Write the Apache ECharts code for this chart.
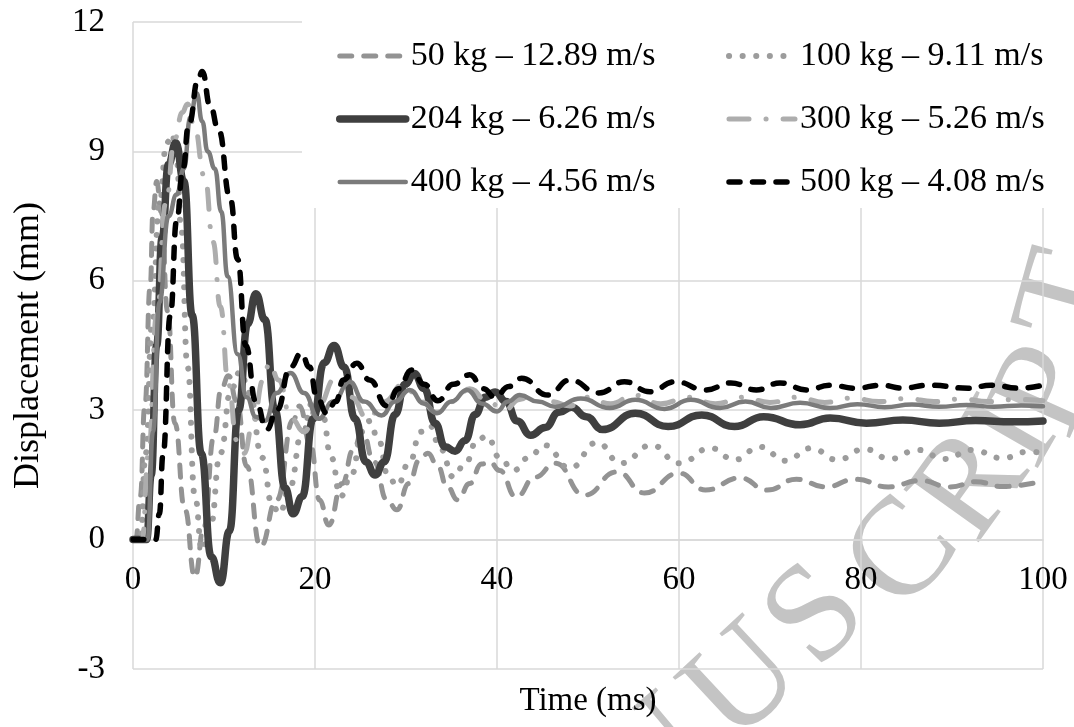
<!DOCTYPE html>
<html>
<head>
<meta charset="utf-8">
<script src="https://cdn.jsdelivr.net/npm/echarts@6/dist/echarts.min.js"></script>
<style>
  html, body { margin: 0; padding: 0; background: #fff; }
  #chart { width: 1074px; height: 727px; }
</style>
</head>
<body>
<div id="chart"></div>
<script>
// Displacement histories [time ms, displacement mm] for each impact case
const seriesNames = [
  '50 kg – 12.89 m/s', '100 kg – 9.11 m/s', '204 kg – 6.26 m/s',
  '300 kg – 5.26 m/s', '400 kg – 4.56 m/s', '500 kg – 4.08 m/s'
];

const d50 = [[0,0],[0.3,0],[0.8,1.0],[1.3,3.1],[1.9,5.9],[2.2,7.6],[2.6,8.3],[3.1,7.6],[3.8,5.3],[4.6,2.7],[5.7,0.7],[6.8,-0.87],[7.8,0.3],[8.9,2.4],[9.7,3.5],[10.5,3.8],[11.4,3.2],[12.5,1.7],[14.0,-0.16],[15.8,0.92],[17.6,2.77],[18.3,3.1],[19.5,2.2],[20.5,0.92],[21.5,0.34],[23.0,1.3],[24.2,2.08],[25.2,2.5],[26.5,1.8],[27.9,0.92],[29.0,0.69],[30.3,1.3],[31.5,1.85],[32.4,2.0],[33.5,1.7],[34.5,1.23],[35.7,0.92],[37.0,1.3],[38.3,1.75],[39.2,1.8],[40.3,1.6],[42.1,0.99],[44.2,1.45],[46.4,1.77],[49.6,1.03],[53.2,1.57],[56.2,1.08],[60.0,1.54],[62.9,1.15],[66.7,1.43],[69.7,1.15],[72.9,1.4],[76.1,1.22],[79.4,1.4],[83.0,1.22],[86.5,1.37],[89.8,1.22],[92.6,1.34],[95.6,1.23],[100,1.36]];

const d100 = [[0,0],[0.8,0],[1.4,2.0],[2.1,5.0],[2.9,7.8],[3.7,9.2],[4.3,9.4],[4.8,8.8],[5.3,7.2],[6.0,4.0],[6.8,1.0],[7.6,-0.25],[8.5,0.3],[9.6,2.0],[10.8,3.5],[11.8,3.9],[12.8,3.4],[14.2,1.9],[15.3,0.8],[16.1,0.6],[17.2,1.2],[18.6,2.5],[19.8,3.2],[20.8,2.9],[21.8,1.9],[22.8,1.0],[24.0,1.5],[25.2,2.5],[26.0,2.75],[27.0,2.3],[28.0,1.5],[29.0,1.25],[30.4,1.8],[31.6,2.5],[32.6,2.65],[33.8,2.1],[35.2,1.45],[36.6,1.8],[37.8,2.3],[38.9,2.4],[40.3,1.9],[41.8,1.6],[43.5,1.9],[45.2,2.19],[48.0,1.66],[51.0,2.25],[53.6,1.77],[57.0,2.19],[60.0,1.77],[63.5,2.12],[66.1,1.85],[68.9,2.15],[71.7,1.83],[74.5,2.12],[77.4,1.85],[80.4,2.1],[83.2,1.87],[86.2,2.08],[89.2,1.87],[92.2,2.08],[95.5,1.89],[98.5,2.04],[100,2.0]];

const d204 = [[0,0],[1.5,0],[2.0,1.5],[2.6,4.5],[3.2,7.0],[3.9,8.7],[4.7,9.2],[5.6,8.3],[6.5,5.2],[7.5,2.0],[8.6,-0.4],[9.6,-1.0],[10.6,0.2],[11.6,3.0],[12.6,5.0],[13.5,5.7],[14.5,5.1],[15.6,3.0],[16.7,1.2],[17.6,0.6],[18.6,1.0],[19.8,2.8],[21.0,4.1],[22.1,4.5],[23.2,4.0],[24.4,2.8],[25.6,1.8],[26.6,1.5],[27.6,1.8],[28.8,2.9],[29.9,3.6],[30.9,3.85],[32.0,3.5],[33.2,2.7],[34.3,2.15],[35.4,2.05],[36.5,2.3],[37.6,2.9],[38.7,3.3],[39.8,3.42],[41.0,3.2],[42.2,2.75],[43.7,2.42],[45.3,2.6],[46.8,2.95],[48.2,3.07],[49.8,2.85],[51.6,2.55],[55.2,2.93],[58.8,2.62],[62.5,2.89],[66.1,2.62],[69.3,2.85],[73.3,2.66],[76.6,2.82],[80.6,2.7],[84.6,2.77],[88.6,2.7],[92.6,2.76],[96.7,2.73],[100,2.75]];

const d300 = [[0,0],[1.0,0],[1.7,2.0],[2.6,5.2],[3.6,7.8],[4.6,9.3],[5.4,9.9],[6.0,10.1],[6.7,9.6],[7.9,8.4],[8.8,6.9],[9.6,5.4],[10.5,3.6],[11.4,2.3],[12.2,2.0],[13.2,2.7],[14.3,3.7],[15.0,4.1],[16.0,3.7],[17.4,2.8],[18.8,2.5],[20.3,3.1],[22.3,3.75],[24.0,3.3],[25.8,2.8],[27.6,3.2],[29.7,3.6],[31.6,3.2],[33.4,2.95],[35.2,3.2],[37.0,3.5],[39.0,3.2],[40.8,3.0],[42.5,3.25],[44.2,3.45],[46.0,3.2],[48.0,3.1],[50.0,3.3],[52.5,3.15],[55.0,3.35],[58.0,3.15],[61.0,3.3],[64.0,3.15],[67.0,3.3],[70.0,3.18],[73.0,3.3],[76.0,3.18],[79.0,3.28],[82.0,3.2],[85.0,3.27],[88.0,3.2],[91.0,3.26],[94.0,3.2],[97.0,3.25],[100,3.22]];

const d400 = [[0,0],[1.6,0],[2.2,2.5],[2.9,5.5],[3.9,7.5],[4.8,8.0],[5.6,8.6],[6.3,9.8],[7.0,10.35],[7.6,9.7],[8.2,9.0],[9.0,8.6],[9.7,7.6],[10.4,6.1],[11.5,4.3],[12.5,3.3],[13.5,2.85],[14.5,2.75],[15.8,3.4],[17.3,3.86],[18.8,3.4],[20.4,2.8],[22.0,3.2],[23.8,3.66],[25.4,3.2],[27.3,2.88],[28.8,3.2],[30.4,3.47],[32.0,3.15],[33.4,2.93],[35.0,3.2],[36.7,3.47],[38.4,3.15],[40.0,2.97],[41.2,3.2],[42.5,3.35],[44.5,3.2],[46.4,3.08],[49.2,3.27],[52.4,3.05],[55.2,3.24],[58.4,3.03],[61.3,3.24],[64.5,3.05],[67.3,3.2],[70.1,3.05],[73.3,3.17],[76.6,3.05],[79.6,3.14],[82.6,3.07],[85.6,3.13],[88.6,3.08],[91.6,3.12],[94.6,3.08],[97.6,3.11],[100,3.09]];

const d500 = [[0,0],[2.5,0],[2.9,0.6],[3.3,1.97],[4.1,5.2],[4.8,7.4],[5.5,8.6],[6.1,9.6],[7.2,10.7],[7.6,10.85],[8.5,10.04],[9.4,9.5],[10.7,7.9],[11.5,6.5],[12.4,4.5],[13.5,3.2],[14.7,2.55],[15.8,3.0],[17.3,4.0],[18.5,4.32],[19.4,4.0],[20.2,3.3],[21.3,2.93],[22.3,3.2],[23.1,3.7],[24.6,4.09],[26.0,3.7],[27.9,3.1],[29.2,3.5],[30.6,3.93],[32.0,3.6],[33.5,3.22],[35.2,3.6],[37.0,3.82],[38.5,3.5],[39.8,3.3],[41.3,3.55],[42.7,3.74],[45.6,3.35],[48.0,3.7],[51.2,3.4],[54.0,3.66],[56.8,3.43],[59.6,3.66],[62.9,3.47],[65.7,3.63],[68.5,3.47],[71.1,3.63],[74.1,3.47],[76.6,3.58],[79.4,3.51],[82.2,3.58],[84.6,3.51],[87.4,3.58],[91.8,3.51],[94.3,3.58],[97.5,3.51],[100,3.58]];

const xTicks = { min: 0, max: 100, step: 20 };
const yTicks = { min: -3, max: 12, step: 3 };

const serif = "'Liberation Serif', 'Times New Roman', serif";
const gridGray = '#d9d9d9';

// plot box (px)
const plot = { left: 133, right: 31, top: 22, bottom: 58, width: 910, height: 647 };
// distance from the plot bottom up to the zero line, so the time axis sits on y = 0
const zeroLift = plot.height * (0 - yTicks.min) / (yTicks.max - yTicks.min);

// series appearance: colour, width, dash pattern (round caps lengthen each dash by the width)
const looks = [
  { color: '#939393', width: 5,   type: [12, 12] },
  { color: '#9c9c9c', width: 6,   type: [0.1, 13.5] },
  { color: '#3f3f3f', width: 7.5, type: 'solid' },
  { color: '#adadad', width: 5,   type: [20, 17, 0.1, 17] },
  { color: '#7b7b7b', width: 4.5, type: 'solid' },
  { color: '#000000', width: 5.5, type: [11, 12.5] }
];
const allData = [d50, d100, d204, d300, d400, d500];

function legendItem(i) {
  const lk = looks[i];
  return {
    name: seriesNames[i],
    itemStyle: { opacity: 0 },
    lineStyle: { color: lk.color, width: lk.width, type: lk.type, cap: 'round' }
  };
}

// curved watermark lettering along the lower right
const wmLetters = [
  { ch: 'N', x: 655, y: 760, r: 0.70 },
  { ch: 'U', x: 745, y: 685, r: 0.75 },
  { ch: 'S', x: 818, y: 618, r: 0.80 },
  { ch: 'C', x: 905, y: 556, r: 0.85 },
  { ch: 'R', x: 973, y: 487, r: 0.95 },
  { ch: 'I', x: 1015, y: 434, r: 1.05 },
  { ch: 'P', x: 1050, y: 392, r: 1.15 },
  { ch: 'T', x: 1074, y: 298, r: 1.30 }
];

const chart = echarts.init(document.getElementById('chart'), null, { renderer: 'canvas' });

chart.setOption({
  backgroundColor: '#fff',
  animation: false,
  grid: { left: plot.left, right: plot.right, top: plot.top, bottom: plot.bottom,
          containLabel: false, outerBoundsMode: 'none' },
  xAxis: {
    type: 'value', min: xTicks.min, max: xTicks.max, interval: xTicks.step,
    position: 'bottom', offset: -zeroLift,
    name: 'Time (ms)', nameLocation: 'middle', nameGap: 145,
    nameTextStyle: { fontFamily: serif, fontSize: 33, color: '#000' },
    axisLine: { show: true, onZero: false, lineStyle: { color: gridGray, width: 1.5 } },
    axisTick: { show: false },
    axisLabel: { fontFamily: serif, fontSize: 33, color: '#000', margin: 24 },
    splitLine: { show: true, lineStyle: { color: gridGray, width: 1.5 } }
  },
  yAxis: {
    type: 'value', min: yTicks.min, max: yTicks.max, interval: yTicks.step,
    name: 'Displacement (mm)', nameLocation: 'middle', nameGap: 86,
    nameTextStyle: { fontFamily: serif, fontSize: 36, color: '#000' },
    axisLine: { show: false, onZero: false },
    axisTick: { show: false },
    axisLabel: { fontFamily: serif, fontSize: 33, color: '#000', margin: 28 },
    splitLine: { show: true, lineStyle: { color: gridGray, width: 1.5 } }
  },
  legend: [
    {
      data: [legendItem(0), legendItem(2), legendItem(4)],
      orient: 'vertical', left: 336, top: 39, itemGap: 29,
      itemWidth: 66, itemHeight: 20, padding: 0,
      textStyle: { fontFamily: serif, fontSize: 34, color: '#000' }
    },
    {
      data: [legendItem(1), legendItem(3), legendItem(5)],
      orient: 'vertical', left: 726, top: 39, itemGap: 29,
      itemWidth: 66, itemHeight: 20, padding: 0,
      textStyle: { fontFamily: serif, fontSize: 34, color: '#000' }
    }
  ],
  graphic: [
    { type: 'rect', left: 302, top: 0, z: 1, silent: true,
      shape: { width: 772, height: 208 }, style: { fill: '#fff' } }
  ].concat(wmLetters.map(l => ({
    type: 'text', x: l.x, y: l.y, rotation: l.r, z: -1, silent: true,
    style: { text: l.ch, x: 0, y: 0, align: 'center', verticalAlign: 'middle',
             font: "140px 'Liberation Serif', serif", fill: '#c4c4c4' }
  }))),
  series: allData.map((data, i) => ({
    name: seriesNames[i], type: 'line', data,
    showSymbol: false, symbol: 'none',
    smooth: 0.5, smoothMonotone: 'x',
    lineStyle: { color: looks[i].color, width: looks[i].width, type: looks[i].type, cap: 'round', join: 'round' },
    itemStyle: { color: looks[i].color }
  }))
});
</script>
</body>
</html>
